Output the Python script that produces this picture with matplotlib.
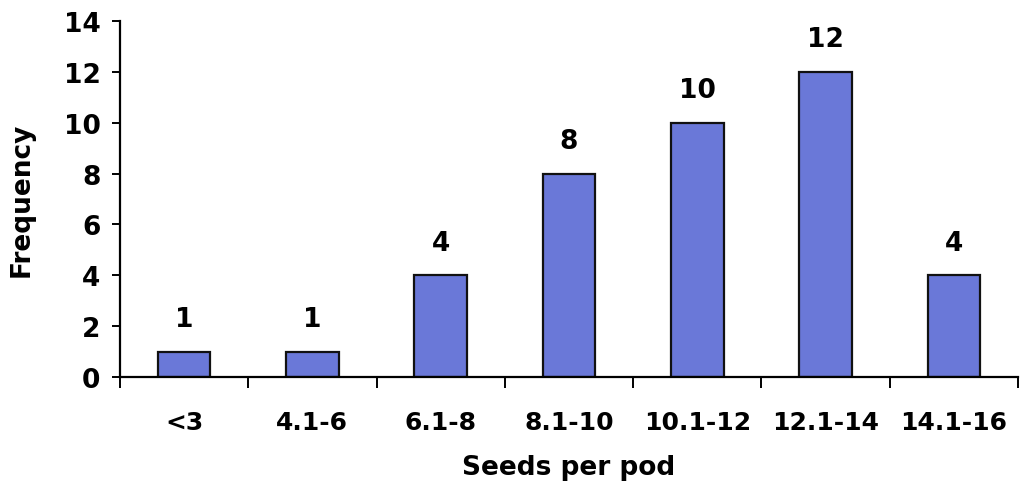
import numpy as np
import matplotlib
matplotlib.use("Agg")
import matplotlib.pyplot as plt

plt.rcParams["font.family"] = ["DejaVu Sans"]
plt.rcParams["font.weight"] = "bold"

categories = ["<3", "4.1-6", "6.1-8", "8.1-10", "10.1-12", "12.1-14", "14.1-16"]
frequency = [1, 1, 4, 8, 10, 12, 4]

fig = plt.figure(figsize=(10.23, 5.02), dpi=100)
ax = fig.add_axes([0.1173, 0.247, 0.8778, 0.709])

centers = np.arange(len(categories)) + 0.5
bars = ax.bar(centers, frequency, width=0.41, color="#6a78d8",
              edgecolor="#111111", linewidth=1.6, zorder=2)

for rect, val in zip(bars, frequency):
    ax.annotate(str(val), (rect.get_x() + rect.get_width() / 2, rect.get_height()),
                xytext=(0, 14), textcoords="offset points",
                ha="center", va="bottom", fontsize=19, fontweight="bold")

ax.set_xlim(0, len(categories))
ax.set_ylim(0, 14)
ax.set_yticks(np.arange(0, 15, 2))

# category boundaries get the tick marks, labels sit between them
ax.set_xticks(np.arange(len(categories) + 1))
ax.set_xticklabels([])
ax.set_xticks(centers, minor=True)
ax.set_xticklabels(categories, minor=True)
ax.tick_params(axis="x", which="major", direction="out", length=8, width=1.4)
ax.tick_params(axis="x", which="minor", length=0, pad=24, labelsize=18)
ax.tick_params(axis="y", direction="out", length=6, width=1.4, pad=8, labelsize=19)

for side in ("top", "right"):
    ax.spines[side].set_visible(False)
for side in ("left", "bottom"):
    ax.spines[side].set_linewidth(1.6)

ax.set_xlabel("Seeds per pod", fontsize=19, fontweight="bold", labelpad=14)
ax.set_ylabel("Frequency", fontsize=19, fontweight="bold", labelpad=21)

fig.savefig("out.png", dpi=100, facecolor="white")
